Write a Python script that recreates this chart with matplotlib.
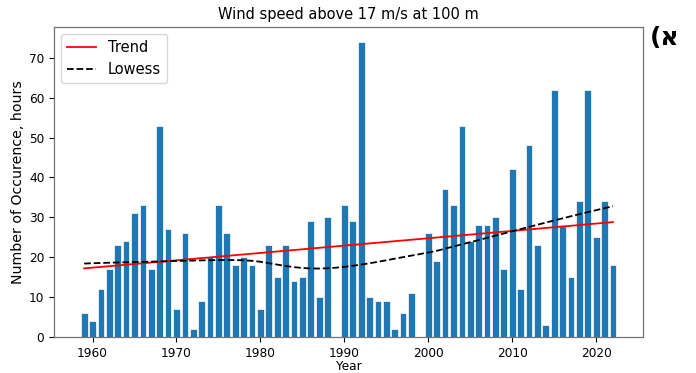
import matplotlib.pyplot as plt
import numpy as np

years = np.arange(1959, 2023)
hours = [6, 4, 12, 17, 23, 24, 31, 33, 17, 53,
         27, 7, 26, 2, 9, 20, 33, 26, 18, 20,
         18, 7, 23, 15, 23, 14, 15, 29, 10, 30,
         0, 33, 29, 74, 10, 9, 9, 2, 6, 11,
         0, 26, 19, 37, 33, 53, 24, 28, 28, 30,
         17, 42, 12, 48, 23, 3, 62, 28, 15, 34,
         62, 25, 34, 18]


def lowess(x, y, frac=2/3, it=3):
    # local-linear lowess with robustness iterations
    x = np.asarray(x, float)
    y = np.asarray(y, float)
    n = len(x)
    r = int(np.ceil(frac * n))
    fit = np.zeros(n)
    rw = np.ones(n)
    for _ in range(it + 1):
        for i in range(n):
            d = np.abs(x - x[i])
            h = np.sort(d)[r - 1]
            w = np.clip(d / h, 0, 1)
            w = (1 - w ** 3) ** 3 * rw
            W = w.sum()
            xm = (w * x).sum() / W
            ym = (w * y).sum() / W
            b = (w * (x - xm) * (y - ym)).sum() / (w * (x - xm) ** 2).sum()
            fit[i] = ym + b * (x[i] - xm)
        res = y - fit
        s = np.median(np.abs(res))
        u = np.clip(res / (6 * s), -1, 1)
        rw = (1 - u ** 2) ** 2
    return fit


# Sen's slope trend
x = years.astype(float)
y = np.array(hours, float)
i, j = np.triu_indices(len(x), 1)
slope = np.median((y[j] - y[i]) / (x[j] - x[i]))
icpt = np.median(y) - slope * np.median(x)
trend = icpt + slope * x
smooth = lowess(x, y)

plt.rcParams['font.size'] = 8.75
plt.rcParams['axes.linewidth'] = 0.9

fig, ax = plt.subplots(figsize=(6.96, 3.73), dpi=100)
ax.bar(years, hours, width=0.8, color='#1f77b4', edgecolor='white', linewidth=0.5)
ax.plot(years, trend, color='red', linewidth=1.3, label='Trend')
ax.plot(years, smooth, 'k--', linewidth=1.3, label='Lowess')

ax.set_title('Wind speed above 17 m/s at 100 m', fontsize=10.5)
ax.set_xlabel('Year', labelpad=0.5)
ax.set_ylabel('Number of Occurence, hours', fontsize=10.2, labelpad=3)
ax.legend(loc='upper left', fontsize=10.5)
for sp in ax.spines.values():
    sp.set_color('0.45')

fig.subplots_adjust(left=0.0776, right=0.924, top=0.9276, bottom=0.0965)
fig.text(0.934, 0.898, '(א', fontsize=18, fontweight='bold', family='DejaVu Sans', va='center')
plt.savefig('out.png', dpi=100)
